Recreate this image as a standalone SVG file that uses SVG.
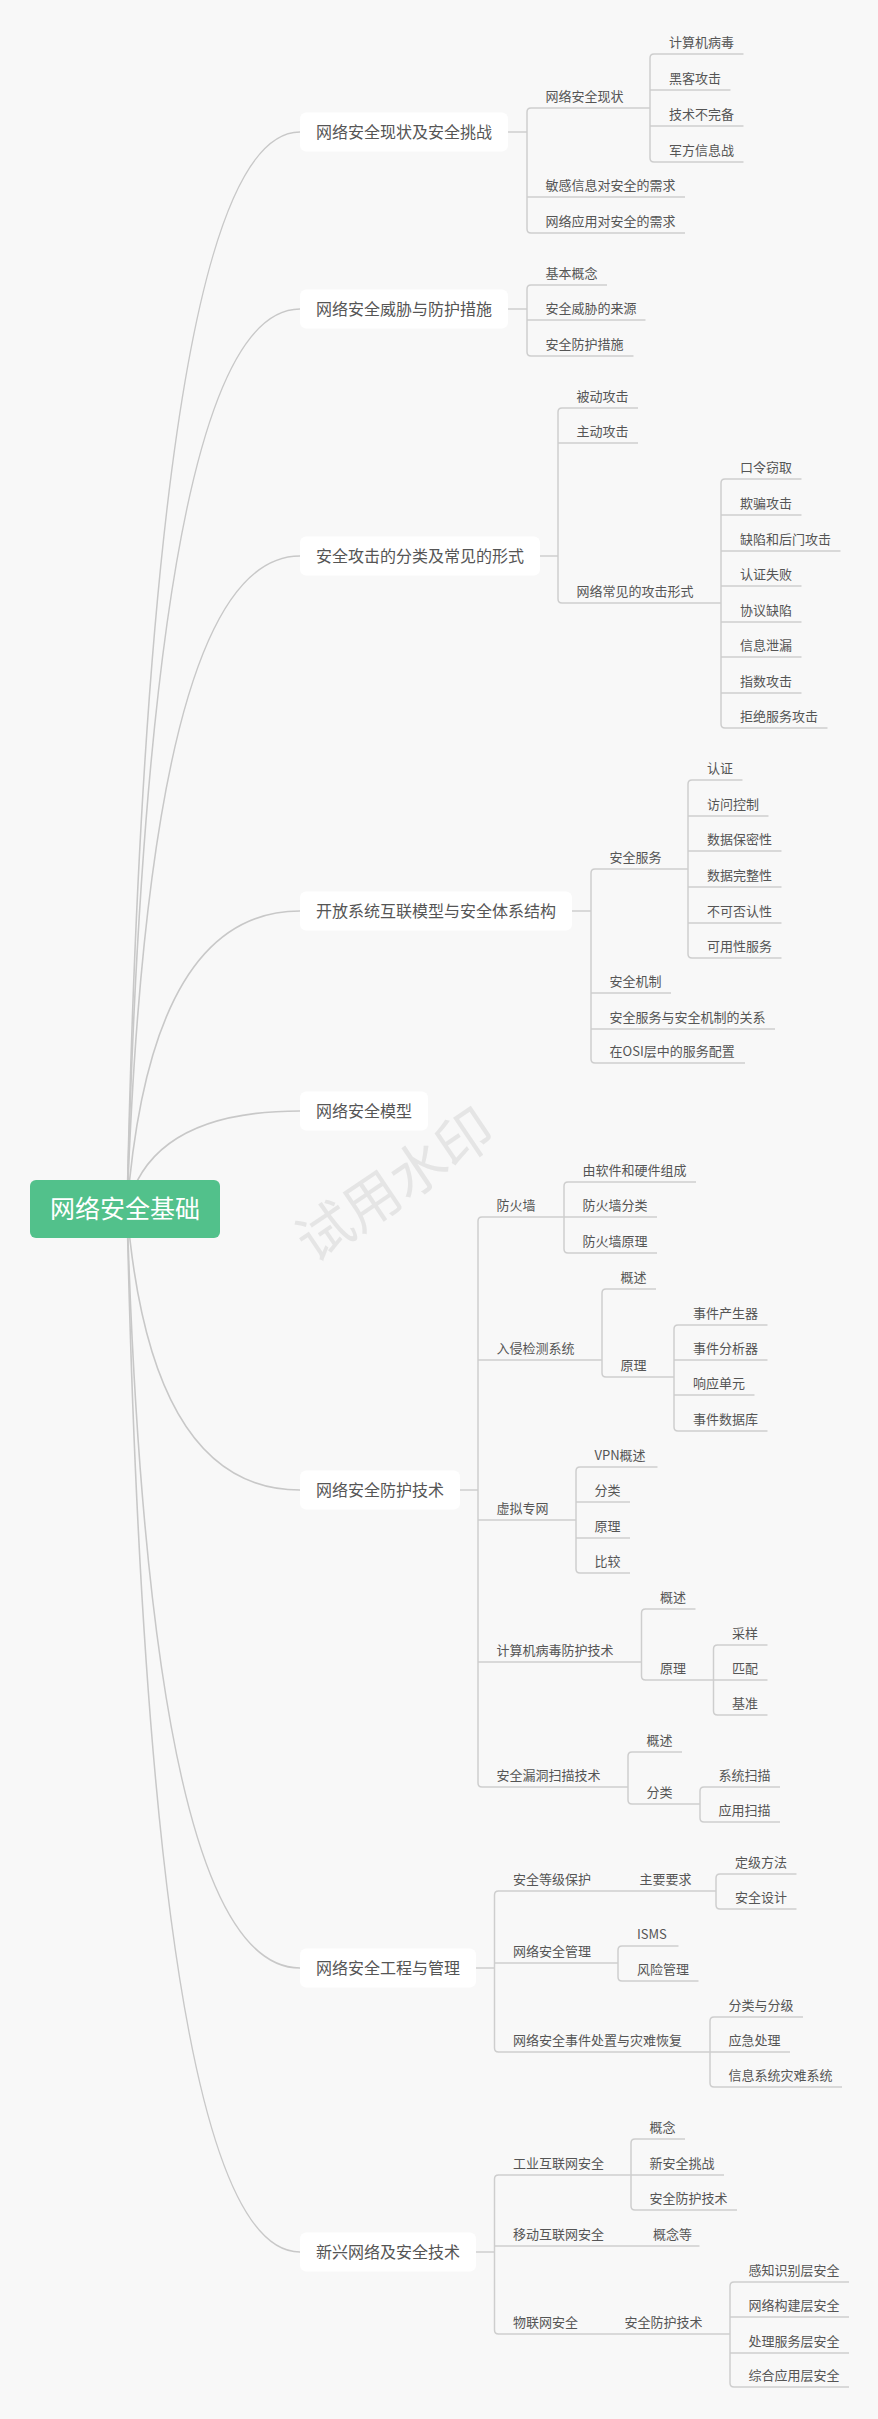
<svg xmlns="http://www.w3.org/2000/svg" width="878" height="2419" viewBox="0 0 878 2419">
<style>
.l{fill:none;stroke:#cecece;stroke-width:1.5}
.c{fill:none;stroke:#c8c8c8;stroke-width:1.6}
.b{fill:#ffffff}
text{font-family:"Noto Sans CJK SC","Liberation Sans",sans-serif;fill:#555}
.t1{font-size:16px}
.t2{font-size:13px}
.rt{font-size:25px;fill:#ffffff}
.wm{font-size:56px;fill:#e5e5e5}
</style>
<rect width="878" height="2419" fill="#f8f8f8"/>
<text class="wm" x="395" y="1205" text-anchor="middle" transform="rotate(-34 395 1185)">试用水印</text>
<g id="connectors">
<path class="c" d="M127 1209 Q150 132 300 132"/>
<path class="c" d="M127 1209 Q150 309 300 309"/>
<path class="c" d="M127 1209 Q150 556 300 556"/>
<path class="c" d="M127 1209 Q150 911 300 911"/>
<path class="c" d="M127 1209 Q150 1111 300 1111"/>
<path class="c" d="M127 1209 Q150 1490 300 1490"/>
<path class="c" d="M127 1209 Q150 1968 300 1968"/>
<path class="c" d="M127 1209 Q150 2252 300 2252"/>
<path class="l" d="M508 132H527M531 108Q527 108 527 112V229Q527 233 531 233"/>
<path class="l" d="M531 108H650M527 197H685M531 233H685"/>
<path class="l" d="M654 54Q650 54 650 58V158Q650 162 654 162M654 54H743.5M650 90H730.5M650 126H743.5M654 162H743.5"/>
<path class="l" d="M508 309H527M531 285Q527 285 527 289V352Q527 356 531 356M531 285H607M527 320H645.5M531 356H633.5"/>
<path class="l" d="M540 556H558M562 408Q558 408 558 412V599Q558 603 562 603M562 408H638M558 443H638M562 603H721"/>
<path class="l" d="M725 479Q721 479 721 483V724Q721 728 725 728M725 479H801.5M721 515H801.5M721 551H840.5M721 586H801.5M721 622H801.5M721 657H801.5M721 693H801.5M725 728H827.5"/>
<path class="l" d="M572 911H591M595 869Q591 869 591 873V1059Q591 1063 595 1063M595 869H688M591 993H671M591 1029H775M595 1063H745"/>
<path class="l" d="M692 780Q688 780 688 784V954Q688 958 692 958M692 780H742.5M688 816H768.5M688 851H781.5M688 887H781.5M688 923H781.5M692 958H781.5"/>
<path class="l" d="M460 1490H478M482 1217Q478 1217 478 1221V1783Q478 1787 482 1787M482 1217H564M478 1360H602M478 1520H576M478 1662H641.5M482 1787H628"/>
<path class="l" d="M568 1182Q564 1182 564 1186V1249Q564 1253 568 1253M568 1182H696M564 1217H657M568 1253H657"/>
<path class="l" d="M606 1289Q602 1289 602 1293V1373Q602 1377 606 1377M606 1289H656M606 1377H674"/>
<path class="l" d="M678 1325Q674 1325 674 1329V1427Q674 1431 678 1431M678 1325H767.5M674 1360H767.5M674 1395H754.5M678 1431H767.5"/>
<path class="l" d="M580 1467Q576 1467 576 1471V1569Q576 1573 580 1573M580 1467H657.5M576 1502H630M576 1538H630M580 1573H630"/>
<path class="l" d="M645.5 1609Q641.5 1609 641.5 1613V1676Q641.5 1680 645.5 1680M645.5 1609H695.5M645.5 1680H713.5"/>
<path class="l" d="M717.5 1645Q713.5 1645 713.5 1649V1711Q713.5 1715 717.5 1715M717.5 1645H767.5M713.5 1680H767.5M717.5 1715H767.5"/>
<path class="l" d="M632 1752Q628 1752 628 1756V1800Q628 1804 632 1804M632 1752H682M632 1804H700"/>
<path class="l" d="M704 1787Q700 1787 700 1791V1818Q700 1822 704 1822M704 1787H780M704 1822H780"/>
<path class="l" d="M476 1968H494.5M498.5 1891Q494.5 1891 494.5 1895V2048Q494.5 2052 498.5 2052M498.5 1891H716M494.5 1963H618M498.5 2052H710"/>
<path class="l" d="M720 1874Q716 1874 716 1878V1905Q716 1909 720 1909M720 1874H796.5M720 1909H796.5"/>
<path class="l" d="M622 1946Q618 1946 618 1950V1977Q618 1981 622 1981M622 1946H678.5M622 1981H698.5"/>
<path class="l" d="M714 2017Q710 2017 710 2021V2083Q710 2087 714 2087M714 2017H803M710 2052H790M714 2087H842"/>
<path class="l" d="M476 2252H494.5M498.5 2175Q494.5 2175 494.5 2179V2330Q494.5 2334 498.5 2334M498.5 2175H631M494.5 2246H699.5M498.5 2334H730"/>
<path class="l" d="M635 2139Q631 2139 631 2143V2206Q631 2210 635 2210M635 2139H685M631 2175H724M635 2210H737"/>
<path class="l" d="M734 2282Q730 2282 730 2286V2383Q730 2387 734 2387M734 2282H849M730 2317H849M730 2353H849M734 2387H849"/>
</g>
<g id="root"><rect x="30" y="1180" width="190" height="58" rx="6" fill="#52c18b"/><text class="rt" x="50" y="1218">网络安全基础</text></g>
<g id="n1"><rect class="b" x="300" y="112.5" width="208" height="39" rx="6"/><text class="t1" x="316" y="137.5">网络安全现状及安全挑战</text></g>
<g id="n1-1"><text class="t2" x="545.5" y="101">网络安全现状</text></g>
<g id="n1-1-1"><text class="t2" x="669" y="47">计算机病毒</text></g>
<g id="n1-1-2"><text class="t2" x="669" y="83">黑客攻击</text></g>
<g id="n1-1-3"><text class="t2" x="669" y="119">技术不完备</text></g>
<g id="n1-1-4"><text class="t2" x="669" y="155">军方信息战</text></g>
<g id="n1-2"><text class="t2" x="545.5" y="190">敏感信息对安全的需求</text></g>
<g id="n1-3"><text class="t2" x="545.5" y="226">网络应用对安全的需求</text></g>
<g id="n2"><rect class="b" x="300" y="289.5" width="208" height="39" rx="6"/><text class="t1" x="316" y="314.5">网络安全威胁与防护措施</text></g>
<g id="n2-1"><text class="t2" x="545.5" y="278">基本概念</text></g>
<g id="n2-2"><text class="t2" x="545.5" y="313">安全威胁的来源</text></g>
<g id="n2-3"><text class="t2" x="545.5" y="349">安全防护措施</text></g>
<g id="n3"><rect class="b" x="300" y="536.5" width="240" height="39" rx="6"/><text class="t1" x="316" y="561.5">安全攻击的分类及常见的形式</text></g>
<g id="n3-1"><text class="t2" x="576.5" y="401">被动攻击</text></g>
<g id="n3-2"><text class="t2" x="576.5" y="436">主动攻击</text></g>
<g id="n3-3"><text class="t2" x="576.5" y="596">网络常见的攻击形式</text></g>
<g id="n3-3-1"><text class="t2" x="740" y="472">口令窃取</text></g>
<g id="n3-3-2"><text class="t2" x="740" y="508">欺骗攻击</text></g>
<g id="n3-3-3"><text class="t2" x="740" y="544">缺陷和后门攻击</text></g>
<g id="n3-3-4"><text class="t2" x="740" y="579">认证失败</text></g>
<g id="n3-3-5"><text class="t2" x="740" y="615">协议缺陷</text></g>
<g id="n3-3-6"><text class="t2" x="740" y="650">信息泄漏</text></g>
<g id="n3-3-7"><text class="t2" x="740" y="686">指数攻击</text></g>
<g id="n3-3-8"><text class="t2" x="740" y="721">拒绝服务攻击</text></g>
<g id="n4"><rect class="b" x="300" y="891.5" width="272" height="39" rx="6"/><text class="t1" x="316" y="916.5">开放系统互联模型与安全体系结构</text></g>
<g id="n4-1"><text class="t2" x="609.5" y="862">安全服务</text></g>
<g id="n4-1-1"><text class="t2" x="707" y="773">认证</text></g>
<g id="n4-1-2"><text class="t2" x="707" y="809">访问控制</text></g>
<g id="n4-1-3"><text class="t2" x="707" y="844">数据保密性</text></g>
<g id="n4-1-4"><text class="t2" x="707" y="880">数据完整性</text></g>
<g id="n4-1-5"><text class="t2" x="707" y="916">不可否认性</text></g>
<g id="n4-1-6"><text class="t2" x="707" y="951">可用性服务</text></g>
<g id="n4-2"><text class="t2" x="609.5" y="986">安全机制</text></g>
<g id="n4-3"><text class="t2" x="609.5" y="1022">安全服务与安全机制的关系</text></g>
<g id="n4-4"><text class="t2" x="609.5" y="1056">在OSI层中的服务配置</text></g>
<g id="n5"><rect class="b" x="300" y="1091.5" width="128" height="39" rx="6"/><text class="t1" x="316" y="1116.5">网络安全模型</text></g>
<g id="n6"><rect class="b" x="300" y="1470.5" width="160" height="39" rx="6"/><text class="t1" x="316" y="1495.5">网络安全防护技术</text></g>
<g id="n6-1"><text class="t2" x="496.5" y="1210">防火墙</text></g>
<g id="n6-1-1"><text class="t2" x="582.5" y="1175">由软件和硬件组成</text></g>
<g id="n6-1-2"><text class="t2" x="582.5" y="1210">防火墙分类</text></g>
<g id="n6-1-3"><text class="t2" x="582.5" y="1246">防火墙原理</text></g>
<g id="n6-2"><text class="t2" x="496.5" y="1353">入侵检测系统</text></g>
<g id="n6-2-1"><text class="t2" x="620.5" y="1282">概述</text></g>
<g id="n6-2-2"><text class="t2" x="620.5" y="1370">原理</text></g>
<g id="n6-2-2-1"><text class="t2" x="693" y="1318">事件产生器</text></g>
<g id="n6-2-2-2"><text class="t2" x="693" y="1353">事件分析器</text></g>
<g id="n6-2-2-3"><text class="t2" x="693" y="1388">响应单元</text></g>
<g id="n6-2-2-4"><text class="t2" x="693" y="1424">事件数据库</text></g>
<g id="n6-3"><text class="t2" x="496.5" y="1513">虚拟专网</text></g>
<g id="n6-3-1"><text class="t2" x="594.5" y="1460">VPN概述</text></g>
<g id="n6-3-2"><text class="t2" x="594.5" y="1495">分类</text></g>
<g id="n6-3-3"><text class="t2" x="594.5" y="1531">原理</text></g>
<g id="n6-3-4"><text class="t2" x="594.5" y="1566">比较</text></g>
<g id="n6-4"><text class="t2" x="496.5" y="1655">计算机病毒防护技术</text></g>
<g id="n6-4-1"><text class="t2" x="660" y="1602">概述</text></g>
<g id="n6-4-2"><text class="t2" x="660" y="1673">原理</text></g>
<g id="n6-4-2-1"><text class="t2" x="732" y="1638">采样</text></g>
<g id="n6-4-2-2"><text class="t2" x="732" y="1673">匹配</text></g>
<g id="n6-4-2-3"><text class="t2" x="732" y="1708">基准</text></g>
<g id="n6-5"><text class="t2" x="496.5" y="1780">安全漏洞扫描技术</text></g>
<g id="n6-5-1"><text class="t2" x="646.5" y="1745">概述</text></g>
<g id="n6-5-2"><text class="t2" x="646.5" y="1797">分类</text></g>
<g id="n6-5-2-1"><text class="t2" x="718.5" y="1780">系统扫描</text></g>
<g id="n6-5-2-2"><text class="t2" x="718.5" y="1815">应用扫描</text></g>
<g id="n7"><rect class="b" x="300" y="1948.5" width="176" height="39" rx="6"/><text class="t1" x="316" y="1973.5">网络安全工程与管理</text></g>
<g id="n7-1"><text class="t2" x="513" y="1884">安全等级保护</text></g>
<g id="n7-1-1"><text class="t2" x="639.5" y="1884">主要要求</text></g>
<g id="n7-1-1-1"><text class="t2" x="735" y="1867">定级方法</text></g>
<g id="n7-1-1-2"><text class="t2" x="735" y="1902">安全设计</text></g>
<g id="n7-2"><text class="t2" x="513" y="1956">网络安全管理</text></g>
<g id="n7-2-1"><text class="t2" x="637" y="1939">ISMS</text></g>
<g id="n7-2-2"><text class="t2" x="637" y="1974">风险管理</text></g>
<g id="n7-3"><text class="t2" x="513" y="2045">网络安全事件处置与灾难恢复</text></g>
<g id="n7-3-1"><text class="t2" x="728.5" y="2010">分类与分级</text></g>
<g id="n7-3-2"><text class="t2" x="728.5" y="2045">应急处理</text></g>
<g id="n7-3-3"><text class="t2" x="728.5" y="2080">信息系统灾难系统</text></g>
<g id="n8"><rect class="b" x="300" y="2232.5" width="176" height="39" rx="6"/><text class="t1" x="316" y="2257.5">新兴网络及安全技术</text></g>
<g id="n8-1"><text class="t2" x="513" y="2168">工业互联网安全</text></g>
<g id="n8-1-1"><text class="t2" x="649.5" y="2132">概念</text></g>
<g id="n8-1-2"><text class="t2" x="649.5" y="2168">新安全挑战</text></g>
<g id="n8-1-3"><text class="t2" x="649.5" y="2203">安全防护技术</text></g>
<g id="n8-2"><text class="t2" x="513" y="2239">移动互联网安全</text></g>
<g id="n8-2-1"><text class="t2" x="653" y="2239">概念等</text></g>
<g id="n8-3"><text class="t2" x="513" y="2327">物联网安全</text></g>
<g id="n8-3-1"><text class="t2" x="624.5" y="2327">安全防护技术</text></g>
<g id="n8-3-1-1"><text class="t2" x="748.5" y="2275">感知识别层安全</text></g>
<g id="n8-3-1-2"><text class="t2" x="748.5" y="2310">网络构建层安全</text></g>
<g id="n8-3-1-3"><text class="t2" x="748.5" y="2346">处理服务层安全</text></g>
<g id="n8-3-1-4"><text class="t2" x="748.5" y="2380">综合应用层安全</text></g>
</svg>
